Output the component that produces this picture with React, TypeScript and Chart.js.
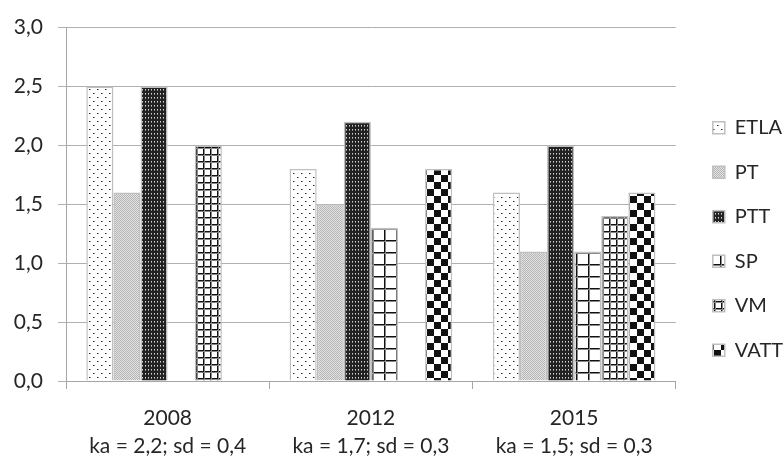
import React, { useEffect, useRef } from 'react';
import { Chart, registerables } from 'chart.js';

Chart.register(...registerables);

const categories = ['2008', '2012', '2015'];
const statLines = ['ka = 2,2; sd = 0,4', 'ka = 1,7; sd = 0,3', 'ka = 1,5; sd = 0,3'];
const seriesNames = ['ETLA', 'PT', 'PTT', 'SP', 'VM', 'VATT'];
const etla = [2.5, 1.8, 1.6];
const pt = [1.6, 1.5, 1.1];
const ptt = [2.5, 2.2, 2.0];
const sp = [null, 1.3, 1.1];
const vm = [2.0, null, 1.4];
const vatt = [null, 1.8, 1.6];
const yMin = 0;
const yMax = 3;
const yStep = 0.5;

const FONT = 'Lato, "Open Sans", sans-serif';
const TEXT = '#262626';
const AXIS = '#a6a6a6';

function makePattern(w: number, h: number, draw: (g: CanvasRenderingContext2D) => void): CanvasPattern | string {
  const c = document.createElement('canvas');
  c.width = w;
  c.height = h;
  const g = c.getContext('2d');
  if (!g) return '#ccc';
  draw(g);
  return g.createPattern(c, 'repeat') || '#ccc';
}

function buildPatterns() {
  const dots = makePattern(8, 8, (g) => {
    g.fillStyle = '#fff';
    g.fillRect(0, 0, 8, 8);
    g.fillStyle = '#222';
    g.fillRect(1, 1, 1, 1);
    g.fillRect(5, 5, 1, 1);
    g.fillStyle = '#999';
    g.fillRect(2, 1, 1, 1);
    g.fillRect(6, 5, 1, 1);
  });
  const lightGray = makePattern(2, 2, (g) => {
    g.fillStyle = '#e4e4e4';
    g.fillRect(0, 0, 2, 2);
    g.fillStyle = '#b4b4b4';
    g.fillRect(0, 0, 1, 1);
    g.fillRect(1, 1, 1, 1);
  });
  const darkDots = makePattern(3, 4, (g) => {
    g.fillStyle = '#222';
    g.fillRect(0, 0, 3, 4);
    g.fillStyle = '#d8d8d8';
    g.fillRect(1, 1, 1, 1);
    g.fillStyle = '#888';
    g.fillRect(1, 2, 1, 1);
  });
  const bigGrid = makePattern(12, 12, (g) => {
    g.fillStyle = '#fff';
    g.fillRect(0, 0, 12, 12);
    g.fillStyle = '#111';
    g.fillRect(0, 0, 1, 12);
    g.fillRect(0, 0, 12, 1);
    g.fillStyle = '#888';
    g.fillRect(1, 0, 1, 12);
    g.fillRect(0, 1, 12, 1);
  });
  const smallGrid = makePattern(7, 7, (g) => {
    g.fillStyle = '#fff';
    g.fillRect(0, 0, 7, 7);
    g.fillStyle = '#111';
    g.fillRect(0, 0, 1, 7);
    g.fillRect(0, 0, 7, 1);
    g.fillStyle = '#888';
    g.fillRect(1, 0, 1, 7);
    g.fillRect(0, 1, 7, 1);
  });
  const checker = makePattern(14, 14, (g) => {
    g.fillStyle = '#fff';
    g.fillRect(0, 0, 14, 14);
    g.fillStyle = '#111';
    g.fillRect(0, 0, 7, 7);
    g.fillRect(7, 7, 7, 7);
  });
  return [dots, lightGray, darkDots, bigGrid, smallGrid, checker];
}

export default function App() {
  const ref = useRef<HTMLCanvasElement | null>(null);

  useEffect(() => {
    if (!ref.current) return;
    const patterns = buildPatterns();
    const values = [etla, pt, ptt, sp, vm, vatt];
    const labels = categories.map((c, i) => [c, statLines[i]]);

    const chart = new Chart(ref.current, {
      type: 'bar',
      data: {
        labels,
        datasets: seriesNames.map((name, i) => ({
          label: name,
          data: values[i] as any,
          backgroundColor: patterns[i] as any,
          borderColor: '#bfbfbf',
          borderWidth: 1.5,
          categoryPercentage: 0.8,
          barPercentage: 1.0,
        })),
      },
      options: {
        animation: false,
        responsive: true,
        maintainAspectRatio: false,
        layout: { padding: { top: 22, right: -9, bottom: 0, left: 0 } },
        plugins: {
          tooltip: { enabled: false },
          legend: {
            position: 'right',
            align: 'center',
            labels: {
              boxWidth: 12,
              boxHeight: 12,
              padding: 24.5,
              color: TEXT,
              font: { family: FONT, size: 20 },
            },
          },
        },
        scales: {
          x: {
            grid: { drawOnChartArea: false, drawTicks: true, tickLength: 8, color: AXIS, offset: true },
            border: { display: true, color: AXIS, width: 1 },
            ticks: {
              color: TEXT,
              font: { family: FONT, size: 21, lineHeight: 1.33 },
              padding: 15,
              maxRotation: 0,
              autoSkip: false,
            },
            afterFit: (s: any) => {
              s.height = 75;
            },
          },
          y: {
            min: yMin,
            max: yMax,
            grid: { color: '#b0b0b0', tickLength: 8, drawTicks: true },
            border: { display: true, color: AXIS, width: 1 },
            ticks: {
              stepSize: yStep,
              padding: 15,
              color: TEXT,
              font: { family: FONT, size: 21 },
              callback: (v: any) => Number(v).toFixed(1).replace('.', ','),
            },
            afterFit: (s: any) => {
              s.width = 66;
            },
          },
          y2: {
            type: 'linear',
            position: 'right',
            display: true,
            grid: { display: false },
            border: { display: false },
            ticks: { display: false },
            afterFit: (s: any) => {
              s.width = 12.5;
            },
          },
        },
      } as any,
    });
    return () => chart.destroy();
  }, []);

  return (
    <div style={{ position: 'fixed', left: 0, top: 0, width: 784, height: 456, background: '#fff' }}>
      <canvas ref={ref} />
    </div>
  );
}
